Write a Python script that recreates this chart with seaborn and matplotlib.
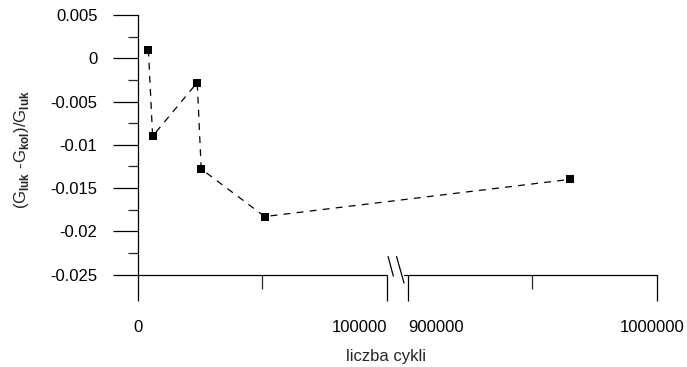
import matplotlib
matplotlib.use("Agg")
import matplotlib.pyplot as plt
import matplotlib.transforms as mtransforms
import numpy as np
import pandas as pd
import seaborn as sns

# values
cycles = [4300, 6000, 23900, 25500, 51000, 965000]
ratio = [0.001, -0.0090, -0.0028, -0.0128, -0.0183, -0.0140]

x_major = [0, 100000, 900000, 1000000]
x_major_labels = ["0", "100000", "900000", "1000000"]
x_minor = [50000, 950000]
y_major = [0.005, 0, -0.005, -0.01, -0.015, -0.02, -0.025]
y_major_labels = ["0.005", "0", "-0.005", "-0.01", "-0.015", "-0.02", "-0.025"]
y_minor = [0.0025, -0.0025, -0.0075, -0.0125, -0.0175, -0.0225]

# broken x axis: 100000..900000 is cut out
BREAK_LO, BREAK_HI = 100000, 900000
GAP = 8400


def squash(x):
    x = np.asarray(x, dtype=float)
    return np.where(x > BREAK_LO, x - (BREAK_HI - BREAK_LO) + GAP, x)


sns.set_style("ticks")
plt.rcParams["font.family"] = ["Liberation Sans", "DejaVu Sans"]
plt.rcParams["mathtext.fontset"] = "custom"
plt.rcParams["mathtext.rm"] = "Liberation Sans"
plt.rcParams["mathtext.bf"] = "Liberation Sans:bold"

df = pd.DataFrame({"x": squash(cycles), "ratio": ratio})

fig = plt.figure(figsize=(6.87, 3.67), dpi=100)
ax = fig.add_axes([0.2004, 0.252, 0.7559, 0.707])

sns.lineplot(data=df, x="x", y="ratio", color="black", marker="s",
             markersize=5.5, markeredgecolor="black", markeredgewidth=0,
             linewidth=0.9, linestyle=(0, (5.5, 5)), ax=ax)

ax.set_xlim(0, squash([1000000])[0])
ax.set_ylim(-0.025, 0.005)

ax.set_xticks(squash(x_major))
ax.set_xticklabels(x_major_labels)
ax.set_xticks(squash(x_minor), minor=True)
ax.set_yticks(y_major)
ax.set_yticklabels(y_major_labels)
ax.set_yticks(y_minor, minor=True)

for s in ["top", "right"]:
    ax.spines[s].set_visible(False)
for s in ["left", "bottom"]:
    ax.spines[s].set_color("black")
    ax.spines[s].set_linewidth(0.9)

ax.tick_params(axis="x", which="major", direction="out", length=19, width=0.9,
               pad=14, labelsize=12, colors="black")
ax.tick_params(axis="x", which="minor", direction="out", length=10, width=0.9)
ax.tick_params(axis="y", which="major", direction="out", length=18, width=0.9,
               pad=11, labelsize=12, colors="black")
ax.tick_params(axis="y", which="minor", direction="out", length=7, width=0.9)

# labels next to the break sit on either side of it
xlabels = ax.get_xticklabels()
xlabels[1].set_ha("right")
xlabels[2].set_ha("left")
shift = mtransforms.ScaledTranslation(-5 / 100, 0, fig.dpi_scale_trans)
xlabels[3].set_transform(xlabels[3].get_transform() + shift)

ax.set_xlabel("liczba cykli", fontsize=12)
ax.xaxis.set_label_coords(0.478, -0.287)
ax.set_ylabel(r"(G$_{\mathbf{luk}}$ -G$_{\mathbf{kol}}$)/G$_{\mathbf{luk}}$", fontsize=12)
ax.yaxis.set_label_coords(-0.205, 0.48)

# break marks on the x axis
xt = ax.get_xaxis_transform()
ax.plot([100900, 106100], [0, 0], color="white", linewidth=2.5,
        transform=xt, clip_on=False, zorder=5)
ax.plot([100500, 102600], [0.069, -0.006], color="black", linewidth=0.9,
        transform=xt, clip_on=False, zorder=6)
ax.plot([103900, 106900], [0.069, -0.033], color="black", linewidth=0.9,
        transform=xt, clip_on=False, zorder=6)

fig.savefig("out.png", dpi=100)
